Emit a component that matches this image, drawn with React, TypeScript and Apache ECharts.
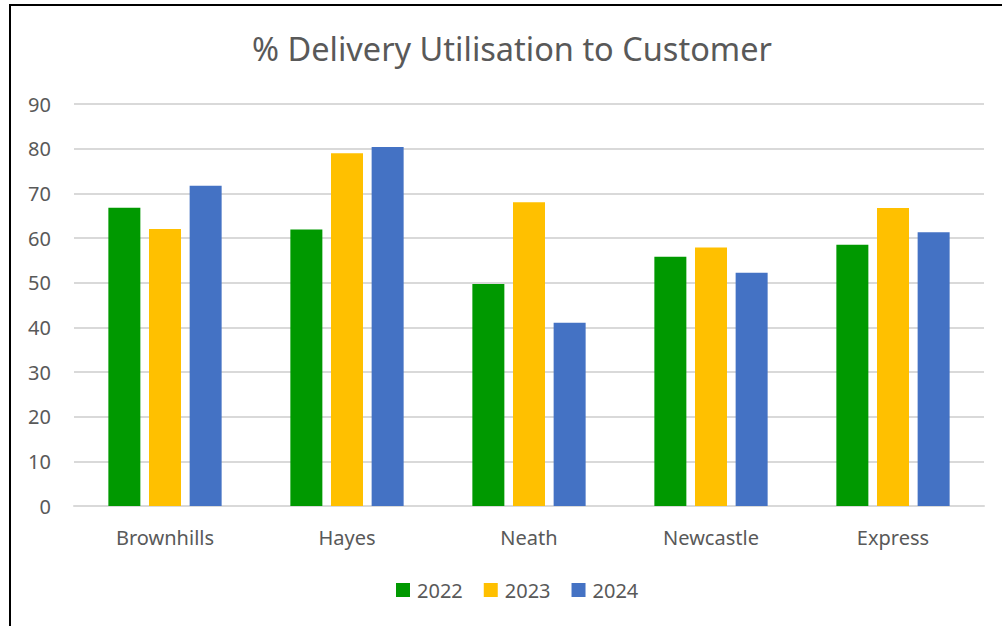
import React, { useEffect, useRef } from "react";
import * as echarts from "echarts";

const categories = ["Brownhills", "Hayes", "Neath", "Newcastle", "Express"];
const values2022 = [66.8, 61.9, 49.7, 55.8, 58.5];
const values2023 = [62.0, 79.0, 68.0, 57.9, 66.7];
const values2024 = [71.7, 80.4, 41.0, 52.2, 61.3];
const seriesNames = ["2022", "2023", "2024"];
const colors = ["#009900", "#FFC000", "#4472C4"];
const titleText = "% Delivery Utilisation to Customer";

const FONT = "'Noto Sans', 'Open Sans', sans-serif";
const GRAY = "#595959";

export default function App() {
  const ref = useRef<HTMLDivElement>(null);
  useEffect(() => {
    if (!ref.current) return;
    const chart = echarts.init(ref.current, undefined, { renderer: "svg" });
    const data = [values2022, values2023, values2024];
    chart.setOption({
      animation: false,
      backgroundColor: "#ffffff",
      textStyle: { fontFamily: FONT },
      title: {
        text: titleText,
        left: 507,
        top: 27,
        textAlign: "center",
        textStyle: { fontFamily: FONT, fontSize: 32.5, fontWeight: "normal", color: GRAY },
      },
      legend: {
        data: seriesNames,
        left: 396,
        top: 580,
        padding: 0,
        itemWidth: 14,
        itemHeight: 14,
        itemGap: 21,
        icon: "rect",
        textStyle: { fontFamily: FONT, fontSize: 20, color: GRAY, padding: [0, 0, 0, 2] },
      },
      grid: { left: 74, right: 18, top: 104, bottom: 120, containLabel: false },
      xAxis: {
        type: "category",
        data: categories,
        axisLine: { show: true, lineStyle: { color: "#d9d9d9", width: 2 } },
        axisTick: { show: false },
        axisLabel: { fontFamily: FONT, fontSize: 20, color: GRAY, margin: 21 },
      },
      yAxis: {
        type: "value",
        min: 0,
        max: 90,
        interval: 10,
        axisLine: { show: false },
        axisTick: { show: false },
        splitLine: { lineStyle: { color: "#d9d9d9", width: 2 } },
        axisLabel: { fontFamily: FONT, fontSize: 20, color: GRAY, margin: 23 },
      },
      graphic: [
        {
          type: "rect",
          shape: { x: 10, y: 5, width: 1100, height: 700 },
          style: { fill: "none", stroke: "#000000", lineWidth: 2 },
          silent: true,
        },
      ],
      series: seriesNames.map((name, i) => ({
        name,
        type: "bar",
        data: data[i],
        barWidth: 32,
        barGap: "27%",
        itemStyle: { color: colors[i] },
      })),
    });
    return () => chart.dispose();
  }, []);
  return (
    <div
      ref={ref}
      style={{ position: "absolute", left: 0, top: 0, width: 1002, height: 626 }}
    />
  );
}
